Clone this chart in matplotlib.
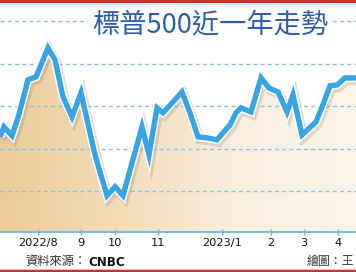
import matplotlib
matplotlib.use('Agg')
import matplotlib.pyplot as plt
import numpy as np
import matplotlib.patheffects as pe
from matplotlib.colors import LinearSegmentedColormap
from matplotlib.lines import Line2D

plt.rcParams['font.family'] = ['Noto Sans CJK TC', 'DejaVu Sans']

# horizontal position along the time axis (chart units) and index level
x_pos = [0, 4, 12, 18, 28, 36, 48, 55, 63, 72, 81, 95, 107, 115, 123, 142, 149,
         157, 163, 182, 190, 198, 207, 217, 230, 236, 241, 251, 261, 269, 278,
         287, 293, 302, 316, 324, 330, 337, 345, 356]
sp500 = [3857, 3904, 3862, 3946, 4125, 4139, 4275, 4219, 4045, 3951, 4064, 3772,
         3580, 3622, 3580, 3904, 3772, 3993, 3970, 4068, 3970, 3857, 3852, 3843,
         3913, 3970, 3993, 3974, 4134, 4087, 4068, 3974, 4054, 3866, 3927, 4021,
         4097, 4101, 4134, 4134]
tick_pos = [38, 81, 115, 158, 222, 271, 304, 338]
tick_labels = ['2022/8', '9', '10', '11', '2023/1', '2', '3', '4']
grid_levels = [3600, 3800, 4000, 4200, 4400]

title = '標普500近一年走勢'
source_label = '資料來源：'
source_name = 'CNBC'
credit = '繪圖：王'

W, H = 356, 272
fig = plt.figure(figsize=(W / 100, H / 100), dpi=100)
fig.patch.set_facecolor('white')
ax = fig.add_axes([0, 1 - 232 / H, 1, (232 - 4) / H])
ymin, ymax = 3409, 4482
ax.set_xlim(0, 356)
ax.set_ylim(ymin, ymax)
ax.set_facecolor('white')

# gradient fill under the line
poly = ax.fill_between(x_pos, sp500, ymin, color='none', lw=0)
cmap = LinearSegmentedColormap.from_list('g', ['#edcb98', '#f4dcb8', '#fbefdf', '#fdf5ea'])
grad = np.linspace(0, 1, 256).reshape(1, -1)
im = ax.imshow(grad, extent=[0, 356, ymin, ymax], aspect='auto', cmap=cmap,
               origin='lower', zorder=1)
paths = poly.get_paths()
im.set_clip_path(paths[0], transform=ax.transData)

# gridlines
for g in grid_levels:
    ax.axhline(g, color='#86c3e4', lw=1.0, ls=(0, (3, 2.2)), zorder=2)

# line with white outline and soft shadow
ax.plot(x_pos, sp500, color='#38a4e4', lw=3.9, solid_joinstyle='miter',
        solid_capstyle='butt', zorder=4,
        path_effects=[pe.SimpleLineShadow(offset=(1.2, -1.8), shadow_color='#666666', alpha=0.2, linewidth=7),
                      pe.Stroke(linewidth=6.0, foreground='white'),
                      pe.Normal()])

# axes styling
for s in ['top', 'left', 'right']:
    ax.spines[s].set_visible(False)
ax.spines['bottom'].set_color('#6db5e0')
ax.spines['bottom'].set_linewidth(1.3)
ax.set_yticks([])
ax.set_xticks(tick_pos)
ax.set_xticklabels(tick_labels, fontfamily='DejaVu Sans', fontsize=8.2, color='#111111')
ax.tick_params(axis='x', direction='inout', length=4, width=1, color='#6db5e0', pad=2)

# title
fig.text(210 / W, 1 - 25 / H, title, ha='center', va='center', fontsize=19.6,
         color='#2d5ea5', zorder=10,
         bbox=dict(boxstyle='square,pad=0.15', fc='white', ec='none'))

# source and credit
fig.text(25 / W, 1 - 262 / H, source_label, ha='left', va='center', fontsize=8.8, color='#333333')
fig.text(88 / W, 1 - 262 / H, source_name, ha='left', va='center', fontsize=8.6,
         color='#111111', fontweight='bold', fontfamily='DejaVu Sans')
fig.text(307 / W, 1 - 262 / H, credit, ha='left', va='center', fontsize=8.6, color='#333333')

# red frame lines
fig.add_artist(Line2D([0, 1], [1 - 1 / H, 1 - 1 / H], color='#d02a2a', lw=2.2, transform=fig.transFigure))
fig.add_artist(Line2D([0, 1], [1 - 4 / H, 1 - 4 / H], color='#e3e3e3', lw=0.8, transform=fig.transFigure))
fig.add_artist(Line2D([0, 1], [1 - 270.5 / H, 1 - 270.5 / H], color='#d02a2a', lw=2.2, transform=fig.transFigure))
fig.add_artist(Line2D([0, 1], [1 - 268.5 / H, 1 - 268.5 / H], color='#c9c9ee', lw=0.8, transform=fig.transFigure))

fig.savefig('out.png', dpi=100, facecolor='white')
